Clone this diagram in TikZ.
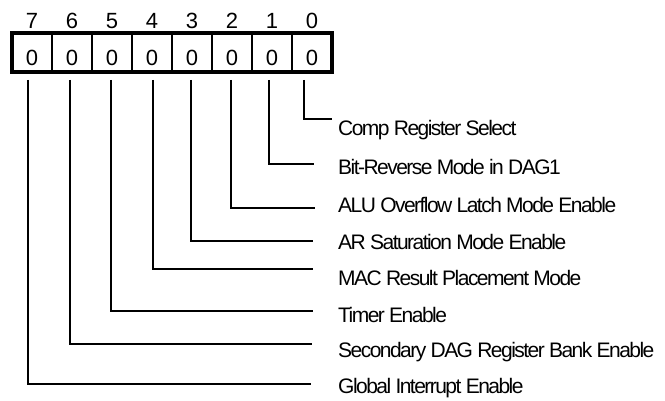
\documentclass[tikz,border=0pt]{standalone}
\usepackage{fontspec}
\setmainfont{Liberation Sans}
\newfontfamily\lblfont[LetterSpace=-7.3]{Liberation Sans}
\begin{document}
\begin{tikzpicture}[x=1pt,y=-1pt,
  cell/.style={draw, line width=2.4pt, minimum width=40pt, minimum height=39pt,
    inner sep=0pt, outer sep=0pt, text height=26pt, text depth=0pt,
    font=\fontsize{22}{22}\selectfont},
  bitnum/.style={inner sep=0pt, font=\fontsize{22}{22}\selectfont},
  lbl/.style={anchor=west, inner sep=0pt, font=\lblfont\fontsize{21}{21}\selectfont},
  conn/.style={line width=1.4pt}]
\useasboundingbox (0,0) rectangle (665,401);
% register cells
\foreach \b/\x in {7/32,6/72,5/112,4/152,3/192,2/232,1/272,0/312}{
  \node[cell] (c\b) at (\x,52.5) {0};
  \node[bitnum] (b\b) at (\x,21) {\b};
}
\draw[line width=3.2pt] (c7.north west) rectangle (c0.south east);
% labels
\node[lbl] (l0) at (338,130) {Comp Register Select};
\node[lbl] (l1) at (338,167) {Bit-Reverse Mode in DAG1};
\node[lbl] (l2) at (338,205) {ALU Overflow Latch Mode Enable};
\node[lbl] (l3) at (338,242) {AR Saturation Mode Enable};
\node[lbl] (l4) at (338,278) {MAC Result Placement Mode};
\node[lbl] (l5) at (338,315) {Timer Enable};
\node[lbl] (l6) at (338,352) {Secondary DAG Register Bank Enable};
\node[lbl] (l7) at (338,388) {Global Interrupt Enable};
% connectors
\foreach \b/\vx/\hy/\hx in {0/304/119/332,1/269/164/314,2/231/208/315,3/191/241/313,
    4/153/269/313,5/111/311/313,6/70/344/312,7/28/384/311}{
  \coordinate (s\b) at (\vx,80);
  \coordinate (e\b) at (\hx,\hy);
  \draw[conn] (s\b) |- (e\b);
}
\end{tikzpicture}
\end{document}
